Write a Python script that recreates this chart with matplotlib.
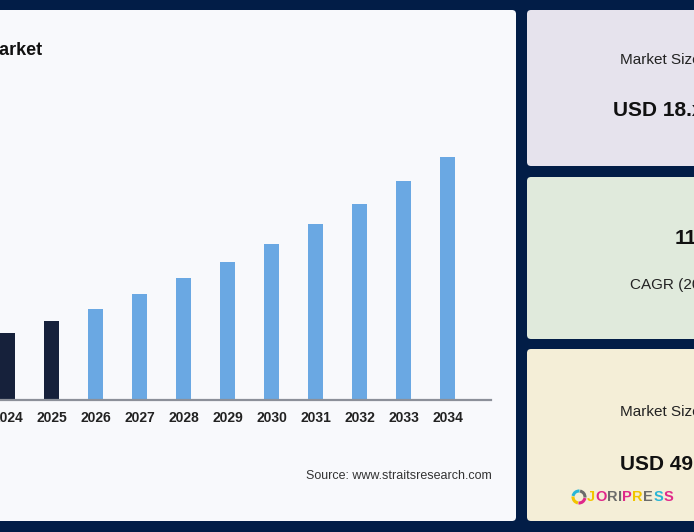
import matplotlib
matplotlib.use("Agg")
import matplotlib.pyplot as plt
from matplotlib.patches import FancyBboxPatch, Arc
import numpy as np

# ---- data ----
years = ["2024", "2025", "2026", "2027", "2028", "2029", "2030", "2031", "2032", "2033", "2034"]
values = [13.8, 16.2, 18.7, 21.8, 25.1, 28.3, 32.0, 36.1, 40.2, 45.0, 49.9]
historic = [True, True, False, False, False, False, False, False, False, False, False]
title_text = "Market"
source_text = "Source: www.straitsresearch.com"
card1_label = "Market Size (2025)"
card1_value = "USD 18.xx Billion"
card2_value = "11.x%"
card2_label = "CAGR (2025-2034)"
card3_label = "Market Size (2034)"
card3_value = "USD 49.xx Billion"
logo_letters = list("JORIPRESS")
logo_colors = ["#f2c500", "#e0288a", "#6b6b6b", "#6b6b6b", "#e0288a", "#f2c500", "#6b6b6b", "#29b6d6", "#e0288a"]

W, H = 694, 532
NAVY = "#021d47"
PANEL = "#f8f9fc"
DARK_BAR = "#16213b"
LIGHT_BAR = "#6aa8e3"

plt.rcParams['font.family'] = ['Liberation Sans', 'DejaVu Sans']

fig = plt.figure(figsize=(W / 100, H / 100), dpi=100, facecolor=NAVY)

bg = fig.add_axes([0, 0, 1, 1])
bg.set_xlim(0, W)
bg.set_ylim(H, 0)
bg.axis("off")
bg.set_facecolor(NAVY)

def card(x0, y0, x1, y1, color):
    p = FancyBboxPatch((x0, y0), x1 - x0, y1 - y0,
                       boxstyle="round,pad=0,rounding_size=4",
                       facecolor=color, edgecolor="none", zorder=1)
    bg.add_patch(p)

card(-10, 10, 516, 521, PANEL)
card(527, 10, 710, 166, "#e6e3ed")
card(527, 177, 710, 339, "#e0eadc")
card(527, 349, 710, 521, "#f4eed7")

# title (cut off at left edge as in the reference)
bg.text(43, 55, title_text, ha="right", va="baseline", fontsize=13,
        fontweight="bold", color="#111111", zorder=3)
# source
bg.text(492, 476, source_text, ha="right", va="center", fontsize=9,
        color="#333333", zorder=3)

# card texts (cut off at right edge as in the reference)
bg.text(620, 60, card1_label, ha="left", va="center", fontsize=11, color="#222222", zorder=3)
bg.text(613, 110, card1_value, ha="left", va="center", fontsize=15, fontweight="bold", color="#111111", zorder=3)
bg.text(675, 238, card2_value, ha="left", va="center", fontsize=15, fontweight="bold", color="#111111", zorder=3)
bg.text(630, 285, card2_label, ha="left", va="center", fontsize=11, color="#222222", zorder=3)
bg.text(620, 412, card3_label, ha="left", va="center", fontsize=11, color="#222222", zorder=3)
bg.text(620, 464, card3_value, ha="left", va="center", fontsize=15, fontweight="bold", color="#111111", zorder=3)

# logo swirl
for i, c in enumerate(["#e0288a", "#f2c500", "#29b6d6", "#6b6b6b"]):
    bg.add_patch(Arc((579, 497), 12, 12, theta1=i * 90 + 10, theta2=i * 90 + 95,
                     color=c, lw=2.2, zorder=3))

# logo word: letters placed side by side using their measured widths
renderer = fig.canvas.get_renderer()
lx = 587.0
for ch, col in zip(logo_letters, logo_colors):
    t = bg.text(lx, 497, ch, ha="left", va="center", color=col, zorder=3,
                fontweight="bold", fontsize=10.5)
    bb = t.get_window_extent(renderer=renderer)
    lx += bb.width + 0.3

# ---- bar chart ----
spacing = 44.0
x0px = 7.5
left_px, right_px = 0, 491
base_px, top_px = 400, 140
ax = fig.add_axes([left_px / W, 1 - base_px / H, (right_px - left_px) / W, (base_px - top_px) / H])
ax.patch.set_alpha(0)
ax.set_zorder(2)
x = np.arange(len(years))
colors = [DARK_BAR if h else LIGHT_BAR for h in historic]
ax.bar(x, values, width=15 / spacing, color=colors, zorder=2)
ax.set_xlim(-x0px / spacing, (right_px - x0px) / spacing)
ymax = values[-1] * (base_px - top_px) / 243.0
ax.set_ylim(0, ymax)
ax.set_xticks(x)
ax.set_xticklabels(years, fontsize=10, fontweight="bold", color="#222222")
ax.tick_params(axis="x", length=0, pad=8)
ax.set_yticks([])
for s in ["top", "right", "left"]:
    ax.spines[s].set_visible(False)
ax.spines["bottom"].set_color("#8c9099")
ax.spines["bottom"].set_linewidth(1.6)

fig.savefig("out.png", dpi=100, facecolor=NAVY)
